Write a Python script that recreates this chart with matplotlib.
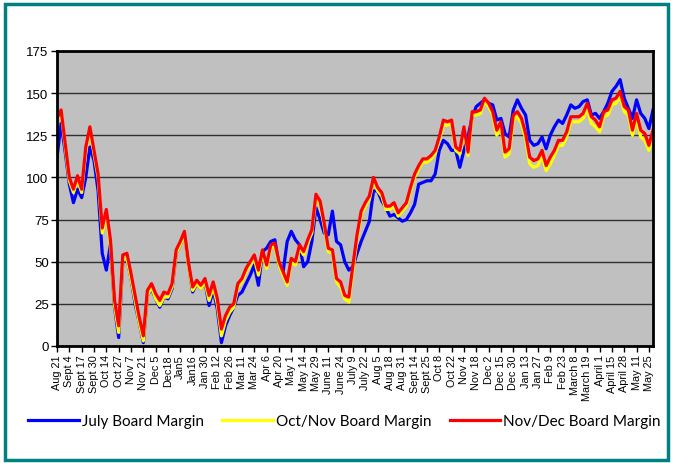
import numpy as np
import matplotlib
matplotlib.use("Agg")
import matplotlib.pyplot as plt
from matplotlib.patches import Rectangle

# tick labels along the x axis (one per week)
week_labels = ["Aug 21", "Sept 4", "Sept 17", "Sept 30", "Oct 14", "Oct 27", "Nov 7",
               "Nov 21", "Dec 5", "Dec18", "Jan5", "Jan16", "Jan 30", "Feb 12", "Feb 26",
               "Mar 11", "Mar 24", "Apr 6", "Apr 20", "May 1", "May 14", "May 29",
               "June 11", "June 24", "July 9", "July 22", "Aug 5", "Aug 18", "Aug 31",
               "Sept 14", "Sept 25", "Oct 8", "Oct 22", "Nov 4", "Nov 18", "Dec 2",
               "Dec 15", "Dec 30", "Jan 13", "Jan 27", "Feb 9", "Feb 23", "March 8",
               "March 19", "April 1", "April 15", "April 28", "May 11", "May 25"]

# margins sampled three times per label interval
july = [112, 132, 115, 96, 85, 93, 88, 100, 118, 110,
        92, 55, 45, 60, 23, 5, 50, 52, 40, 25,
        14, 2, 30, 34, 28, 23, 29, 28, 34, 55,
        60, 66, 48, 32, 37, 34, 38, 24, 33, 22,
        2, 12, 18, 23, 30, 32, 37, 42, 48, 36,
        56, 58, 62, 63, 48, 44, 62, 68, 63, 60,
        47, 50, 62, 82, 75, 67, 66, 80, 62, 60,
        50, 45, 47, 55, 62, 68, 74, 92, 92, 86,
        82, 77, 78, 76, 74, 75, 79, 84, 96, 97,
        98, 98, 102, 116, 122, 120, 116, 116, 106, 116,
        124, 136, 142, 144, 146, 144, 143, 134, 135, 126,
        124, 140, 146, 141, 137, 122, 119, 120, 124, 117,
        125, 130, 134, 132, 137, 143, 141, 142, 145, 146,
        137, 138, 135, 139, 144, 151, 154, 158, 147, 141,
        135, 146, 138, 135, 129, 140]

oct_nov = [134, 139, 118, 98, 91, 99, 91, 116, 128, 114,
           100, 67, 78, 60, 24, 8, 51, 52, 40, 27,
           14, 3, 30, 35, 28, 24, 29, 29, 35, 55,
           60, 66, 47, 33, 37, 34, 38, 27, 35, 25,
           6, 15, 20, 23, 35, 38, 44, 48, 52, 42,
           55, 46, 58, 59, 48, 42, 36, 50, 48, 58,
           54, 61, 67, 88, 84, 71, 56, 55, 38, 35,
           28, 26, 45, 63, 78, 83, 87, 98, 92, 89,
           81, 81, 83, 77, 80, 83, 92, 100, 105, 109,
           109, 111, 114, 122, 131, 131, 132, 116, 114, 128,
           113, 137, 137, 138, 145, 142, 137, 125, 131, 112,
           114, 134, 136, 132, 123, 108, 106, 107, 113, 104,
           108, 113, 119, 119, 124, 133, 133, 133, 135, 141,
           132, 130, 127, 136, 137, 143, 144, 148, 139, 137,
           125, 135, 124, 122, 116, 124]

nov_dec = [135, 140, 120, 100, 93, 101, 93, 118, 130, 116,
           102, 70, 81, 63, 27, 12, 54, 55, 43, 30,
           17, 6, 33, 37, 31, 27, 32, 31, 37, 57,
           62, 68, 49, 35, 39, 36, 40, 30, 38, 28,
           10, 18, 23, 25, 37, 40, 46, 50, 54, 45,
           57, 48, 60, 61, 50, 44, 38, 52, 50, 60,
           56, 63, 69, 90, 86, 73, 58, 57, 40, 38,
           30, 29, 48, 66, 80, 85, 89, 100, 94, 91,
           83, 83, 85, 79, 82, 85, 94, 102, 107, 111,
           111, 113, 116, 124, 134, 133, 134, 118, 116, 130,
           115, 139, 139, 140, 147, 144, 139, 128, 133, 115,
           117, 137, 139, 135, 126, 112, 110, 111, 116, 107,
           112, 116, 122, 122, 127, 136, 136, 136, 138, 144,
           136, 134, 130, 139, 140, 146, 147, 151, 142, 140,
           128, 138, 128, 126, 119, 128]

x = np.arange(len(nov_dec)) / 3.0

fig = plt.figure(figsize=(6.73, 4.64), dpi=100)
ax = fig.add_axes([0.0847, 0.2522, 0.8856, 0.6358])
ax.set_facecolor("#C0C0C0")

ax.plot(x, july, color="#0000FF", lw=2.3, label="July Board Margin")
ax.plot(x, oct_nov, color="#FFFF00", lw=2.3, label="Oct/Nov Board Margin")
ax.plot(x, nov_dec, color="#FF0000", lw=2.3, label="Nov/Dec Board Margin")

ax.set_ylim(0, 175)
ax.set_xlim(0, x[-1])
ax.set_yticks(range(0, 176, 25))
ax.yaxis.grid(True, color="#303030", lw=1)
ax.set_axisbelow(True)
ax.set_xticks(range(len(week_labels)))
ax.set_xticklabels(week_labels, rotation=90, fontsize=7.8, family="Liberation Sans")
for lab in ax.get_yticklabels():
    lab.set_fontsize(9.5)
    lab.set_family("Liberation Sans")
ax.tick_params(axis="both", length=4, width=1, color="black", pad=2)
for s in ax.spines.values():
    s.set_linewidth(2)
    s.set_color("black")

fig.legend(loc="center", bbox_to_anchor=(0.5 + 8 / 673, 1 - 422 / 464), ncol=3, frameon=False,
           prop={"family": "Lato", "size": 11}, handlelength=3.3, handletextpad=0.2,
           columnspacing=1.2)

# teal frame round the whole chart
fig.patches.append(Rectangle((5 / 673, 3 / 464), 663 / 673, 456 / 464, transform=fig.transFigure,
                             fill=False, edgecolor="#008080", lw=2.5))

fig.savefig("out.png", dpi=100)
